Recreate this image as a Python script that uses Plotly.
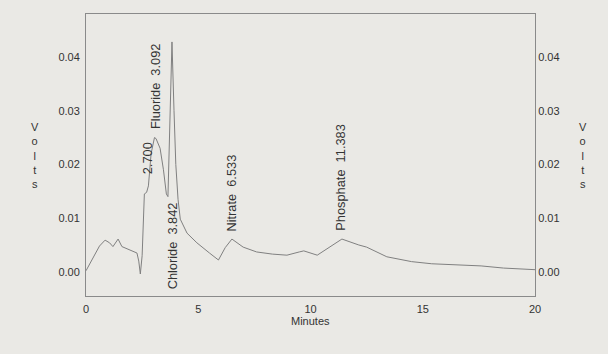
import plotly.graph_objects as go

# Chromatogram trace (minutes, volts)
time_min = [0.0, 0.3, 0.6, 0.85, 1.05, 1.2, 1.43, 1.6, 1.9, 2.27, 2.35, 2.42, 2.5, 2.6, 2.7,
            2.78, 2.9, 3.05, 3.12, 3.3, 3.45, 3.58, 3.65, 3.75, 3.83, 3.92, 4.0, 4.1, 4.2,
            4.5, 4.94, 5.5, 5.9, 6.2, 6.5, 7.0, 7.6, 8.3, 8.95, 9.5, 9.7, 10.3, 10.8, 11.4,
            12.15, 12.5, 13.4, 14.5, 15.4, 16.4, 17.6, 18.6, 20.0]
volts = [0.0002, 0.0025, 0.0048, 0.0059, 0.0054, 0.0047, 0.0061, 0.0047, 0.0041, 0.0035,
         0.002, -0.0004, 0.003, 0.0145, 0.0148, 0.016, 0.022, 0.025, 0.0248, 0.023, 0.019,
         0.0145, 0.014, 0.03, 0.0428, 0.03, 0.02, 0.0135, 0.0098, 0.0072, 0.0054, 0.0035,
         0.0022, 0.0045, 0.0061, 0.0046, 0.0037, 0.0033, 0.0031, 0.0037, 0.0039, 0.0031,
         0.0045, 0.0061, 0.005, 0.0046, 0.0028, 0.0019, 0.0015, 0.0013, 0.0011, 0.0007, 0.0004]

# Peak labels
peak_labels = ["2.700", "Fluoride\u00a0\u00a03.092", "Chloride\u00a0\u00a03.842",
               "Nitrate\u00a0\u00a06.533", "Phosphate\u00a0\u00a011.383"]
peak_x = [2.72, 3.07, 3.83, 6.5, 11.36]
peak_y = [0.0178, 0.0263, 0.0134, 0.0072, 0.0072]
peak_below = [False, False, True, False, False]

x_ticks = [0, 5, 10, 15, 20]
y_ticks = [0.00, 0.01, 0.02, 0.03, 0.04]
y_tick_text = ["0.00", "0.01", "0.02", "0.03", "0.04"]

BG = "#eae9e5"
AX = "#8a8a8a"
TXT = "#333333"
FONT = "Liberation Sans, Arial, sans-serif"

fig = go.Figure()
fig.add_trace(go.Scatter(x=time_min, y=volts, mode="lines",
                         line=dict(color="#808080", width=1), showlegend=False))
# invisible trace for right axis
fig.add_trace(go.Scatter(x=[0], y=[0], yaxis="y2", mode="markers",
                         marker=dict(opacity=0), showlegend=False, hoverinfo="skip"))

for txt, px, py, below in zip(peak_labels, peak_x, peak_y, peak_below):
    fig.add_annotation(x=px, y=py, text=txt, textangle=-90, showarrow=False,
                       xanchor="center", yanchor="top" if below else "bottom",
                       font=dict(family=FONT, size=12.8, color=TXT))

yr = [-0.0045, 0.048]
fig.update_layout(
    width=608, height=354,
    margin=dict(l=86, r=73, t=14, b=58),
    paper_bgcolor=BG, plot_bgcolor=BG,
    font=dict(family=FONT, size=11, color=TXT),
    xaxis=dict(range=[0, 20], tickvals=x_ticks, showgrid=False, zeroline=False,
               showline=True, linecolor=AX, linewidth=1, mirror=True,
               ticks="outside", ticklen=3, tickcolor=BG,
               tickfont=dict(family=FONT, size=11, color=TXT)),
    yaxis=dict(range=yr, tickvals=y_ticks, ticktext=y_tick_text, showgrid=False,
               zeroline=False, showline=True, linecolor=AX, linewidth=1,
               ticks="outside", ticklen=3, tickcolor=BG,
               tickfont=dict(family=FONT, size=11, color=TXT)),
    yaxis2=dict(range=yr, tickvals=y_ticks, ticktext=y_tick_text, overlaying="y",
                side="right", showgrid=False, zeroline=False, showline=True,
                linecolor=AX, linewidth=1, ticks="",
                tickfont=dict(family=FONT, size=11, color=TXT)),
)

fig.add_annotation(xref="paper", yref="paper", x=0.5, y=-0.06, text="Minutes",
                   showarrow=False, xanchor="center", yanchor="top",
                   font=dict(family=FONT, size=11, color=TXT))
for xpix in [35, 583]:
    fig.add_annotation(xref="paper", yref="paper", x=(xpix - 86) / (535 - 86),
                       y=(296 - 155) / (296 - 14), text="V<br>o<br>l<br>t<br>s",
                       showarrow=False, xanchor="center", yanchor="middle",
                       font=dict(family=FONT, size=11, color=TXT))

fig.write_html("out.html")
